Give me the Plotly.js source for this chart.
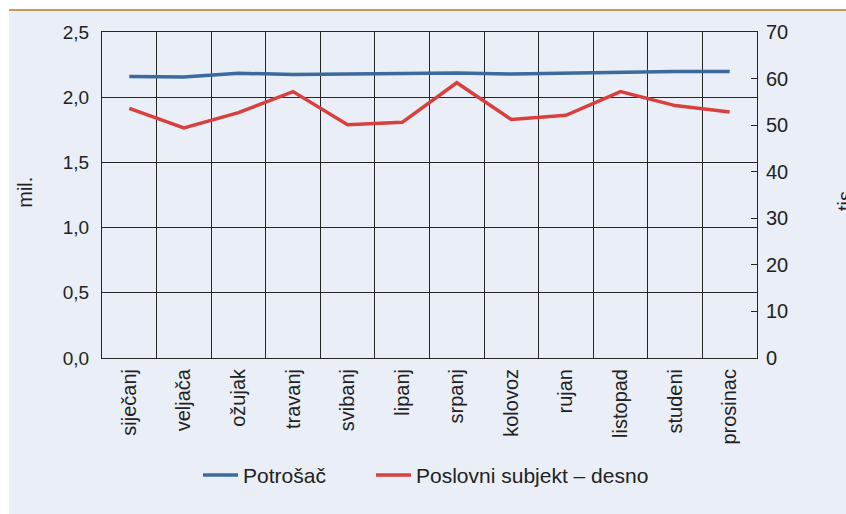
<!DOCTYPE html>
<html>
<head>
<meta charset="utf-8">
<script src="https://cdn.plot.ly/plotly-3.0.1.min.js"></script>
<style>
html,body{margin:0;padding:0;background:#fff;overflow:hidden;width:846px;height:514px;}
#chart{position:absolute;left:9px;top:9px;width:837px;height:503px;border-top:2px solid #C49A5B;}
</style>
</head>
<body>
<div id="chart"></div>
<script>
const months = ["siječanj","veljača","ožujak","travanj","svibanj","lipanj","srpanj","kolovoz","rujan","listopad","studeni","prosinac"];
const potrosac = [2.158,2.155,2.184,2.174,2.178,2.181,2.186,2.178,2.186,2.189,2.197,2.197];
const poslovni = [53.6,49.4,52.7,57.2,50.1,50.6,59.1,51.2,52.1,57.2,54.2,52.8];
const seriesNames = ["Potrošač","Poslovni subjekt – desno"];
const yTitleLeft = "mil.";
const yTitleRight = "tis.";

const fam = "Liberation Sans, Arial, sans-serif";
const txt = "#222";
const gridCol = "#262626";

const data = [
  {x:months, y:potrosac, name:seriesNames[0], type:"scatter", mode:"lines",
   line:{color:"#3B6A9C", width:3.5}, yaxis:"y", legend:"legend"},
  {x:months, y:poslovni, name:seriesNames[1], type:"scatter", mode:"lines",
   line:{color:"#D8403E", width:3.5}, yaxis:"y2", legend:"legend2"}
];

const legendBase = {orientation:"h", xanchor:"left", y:-0.36, yanchor:"middle",
          font:{family:fam, size:21, color:txt}, bgcolor:"rgba(0,0,0,0)", itemwidth:35};

const layout = {
  width:837, height:503,
  margin:{l:93, r:89, t:21, b:156},
  paper_bgcolor:"#E9EEF7", plot_bgcolor:"#E9EEF7",
  font:{family:fam, size:18, color:txt},
  separators:",.",
  showlegend:true,
  legend:Object.assign({}, legendBase, {x:0.1466}),
  legend2:Object.assign({}, legendBase, {x:0.4107}),
  xaxis:{type:"category", tickangle:-90, tickson:"boundaries", ticks:"", showgrid:true,
         gridcolor:gridCol, gridwidth:1, showline:true, linecolor:gridCol, linewidth:1, mirror:true,
         tickfont:{family:fam, size:20, color:txt}, range:[-0.5,11.5], ticklabelstandoff:2},
  yaxis:{range:[0,2.5], dtick:0.5, tickformat:".1f", showgrid:true, gridcolor:gridCol, gridwidth:1,
         zeroline:false, showline:true, linecolor:gridCol, linewidth:1, ticks:"", ticklabelstandoff:8,
         tickfont:{family:fam, size:19, color:txt}},
  yaxis2:{range:[0,70], dtick:10, overlaying:"y", side:"right", showgrid:false, zeroline:false,
          showline:true, linecolor:gridCol, linewidth:1, ticks:"inside", ticklen:6, tickcolor:gridCol,
          tickwidth:1, tickfont:{family:fam, size:20, color:txt}, ticklabelstandoff:4},
  annotations:[
    {text:yTitleLeft, xref:"paper", yref:"paper", x:-0.118, y:0.509, textangle:-90, showarrow:false,
     font:{family:fam, size:20, color:txt}, xanchor:"center", yanchor:"middle"},
    {text:yTitleRight, xref:"paper", yref:"paper", x:1.134, y:0.49, textangle:-90, showarrow:false,
     font:{family:fam, size:20, color:txt}, xanchor:"center", yanchor:"middle"}
  ]
};

Plotly.newPlot("chart", data, layout, {displayModeBar:false, staticPlot:true});
</script>
</body>
</html>
